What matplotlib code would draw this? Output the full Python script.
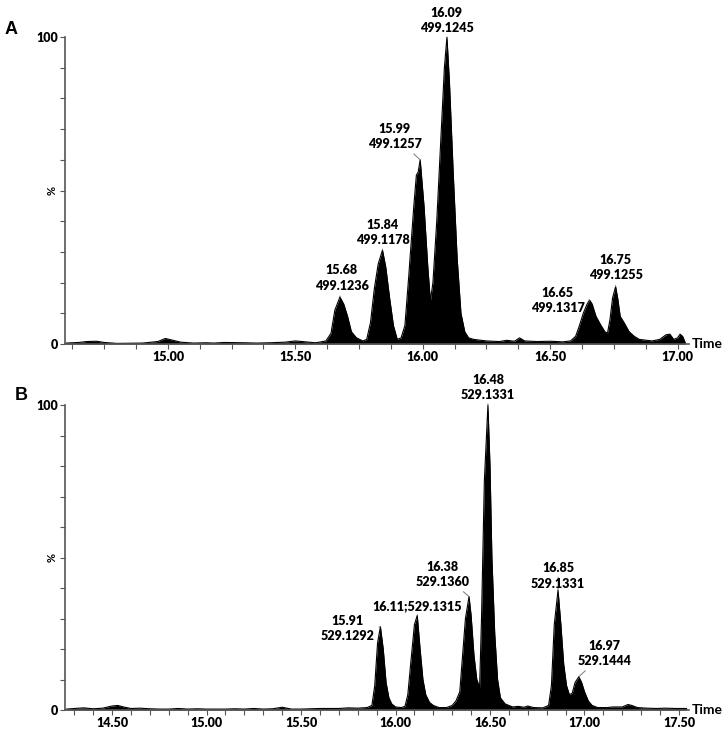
import matplotlib
matplotlib.use("Agg")
import matplotlib.pyplot as plt
import numpy as np

plt.rcParams["font.family"] = ["Lato", "DejaVu Sans"]

# ---- panel A: chromatogram (time in min, relative intensity in %)
time_a = [14.60, 14.65, 14.68, 14.72, 14.75, 14.80, 14.90, 14.96, 14.99, 15.02,
          15.05, 15.10, 15.15, 15.18, 15.22, 15.30, 15.35, 15.40, 15.46, 15.50,
          15.54, 15.58, 15.62, 15.64, 15.655, 15.675, 15.69, 15.705, 15.72, 15.74,
          15.765, 15.78, 15.795, 15.81, 15.825, 15.842, 15.855, 15.87, 15.885, 15.90,
          15.915, 15.93, 15.945, 15.965, 15.975, 15.982, 15.99, 16.005, 16.02, 16.03,
          16.04, 16.055, 16.07, 16.085, 16.095, 16.105, 16.12, 16.135, 16.15, 16.165,
          16.18, 16.20, 16.25, 16.30, 16.33, 16.36, 16.38, 16.40, 16.45, 16.50,
          16.55, 16.58, 16.60, 16.615, 16.63, 16.645, 16.655, 16.665, 16.68, 16.70,
          16.715, 16.725, 16.735, 16.745, 16.757, 16.765, 16.775, 16.79, 16.81, 16.83,
          16.85, 16.88, 16.90, 16.93, 16.955, 16.97, 16.985, 17.00, 17.01, 17.02, 17.03]
int_a = [0.3, 0.5, 0.8, 0.9, 0.5, 0.2, 0.3, 0.8, 1.8, 1.2,
         0.6, 0.3, 0.4, 0.3, 0.5, 0.4, 0.3, 0.4, 0.6, 1.0,
         0.7, 0.4, 1.0, 3.5, 11, 15.3, 13, 9, 4, 2,
         1.0, 1.5, 7, 18, 26, 30.6, 25, 15, 6, 1.5,
         2.0, 6, 22, 45, 55, 56, 60, 45, 25, 14,
         20, 40, 65, 90, 100, 85, 55, 28, 10, 4,
         2, 1.5, 1.0, 0.8, 1.2, 0.9, 2.0, 1.0, 0.8, 0.9,
         0.7, 1.0, 2.5, 6, 10, 13, 14.3, 13, 9, 6,
         4, 3.5, 8, 15, 18.7, 15, 9, 7, 4, 2.5,
         1.5, 1.2, 1.0, 1.5, 3.0, 3.2, 1.5, 2.0, 3.2, 2.5, 0.5]
peak_t_a = [15.675, 15.842, 15.99, 16.095, 16.655, 16.757]
peak_y_a = [15.3, 30.6, 60, 100, 14.3, 18.7]
labels_a = ["15.68\n499.1236", "15.84\n499.1178", "15.99\n499.1257",
            "16.09\n499.1245", "16.65\n499.1317", "16.75\n499.1255"]
ticks_a = [15.0, 15.5, 16.0, 16.5, 17.0]

# ---- panel B
time_b = [14.26, 14.30, 14.35, 14.40, 14.45, 14.50, 14.53, 14.56, 14.60, 14.65,
          14.70, 14.75, 14.80, 14.85, 14.90, 14.95, 15.00, 15.05, 15.10, 15.15,
          15.20, 15.25, 15.30, 15.35, 15.40, 15.45, 15.50, 15.55, 15.60, 15.65,
          15.70, 15.75, 15.80, 15.85, 15.875, 15.89, 15.905, 15.92, 15.935, 15.95,
          15.965, 15.98, 16.00, 16.03, 16.05, 16.065, 16.08, 16.10, 16.115, 16.13,
          16.145, 16.16, 16.18, 16.20, 16.23, 16.27, 16.30, 16.32, 16.34, 16.355,
          16.37, 16.389, 16.40, 16.415, 16.43, 16.445, 16.455, 16.47, 16.489, 16.50,
          16.51, 16.525, 16.54, 16.555, 16.58, 16.62, 16.65, 16.68, 16.70, 16.73,
          16.78, 16.81, 16.825, 16.84, 16.86, 16.875, 16.89, 16.905, 16.92, 16.935,
          16.95, 16.97, 16.985, 17.00, 17.02, 17.04, 17.07, 17.12, 17.15, 17.20,
          17.23, 17.25, 17.28, 17.33, 17.38, 17.43, 17.48, 17.54]
int_b = [0.3, 0.5, 0.7, 0.4, 0.6, 1.3, 1.5, 1.0, 0.5, 0.6,
         0.4, 0.3, 0.3, 0.5, 0.3, 0.4, 0.3, 0.3, 0.3, 0.4,
         0.3, 0.5, 0.3, 0.4, 0.9, 0.3, 0.3, 0.4, 0.5, 0.5,
         0.5, 0.7, 0.6, 0.8, 1.5, 8, 22, 27.3, 20, 9,
         4, 2, 1.0, 0.8, 1.2, 5, 15, 28, 31, 20,
         10, 5, 2.5, 1.5, 0.8, 0.8, 1.5, 3, 6, 18,
         30, 37.2, 31, 18, 10, 7.5, 30, 75, 100, 80,
         50, 25, 10, 4, 2, 1.0, 1.2, 0.9, 1.3, 0.8,
         0.7, 1.5, 8, 28, 39.3, 28, 15, 8, 5, 5.5,
         9, 10.9, 9, 6, 3, 1.5, 0.8, 0.8, 1.0, 1.0,
         1.8, 1.5, 0.8, 0.6, 0.5, 0.6, 0.5, 0.5]
peak_t_b = [15.92, 16.115, 16.389, 16.489, 16.86, 16.97]
peak_y_b = [27.3, 31, 37.2, 100, 39.3, 10.9]
labels_b = ["15.91\n529.1292", "16.11;529.1315", "16.38\n529.1360",
            "16.48\n529.1331", "16.85\n529.1331", "16.97\n529.1444"]
ticks_b = [14.5, 15.0, 15.5, 16.0, 16.5, 17.0, 17.5]

# label centres (data coords) for each panel
text_pos_a = [(15.682, 21.5), (15.843, 36.3), (15.890, 67.6),
              (16.094, 105.4), (16.529, 14.2), (16.757, 24.9)]
text_pos_b = [(15.748, 26.8), (16.115, 34.1), (16.25, 44.5),
              (16.489, 105.8), (16.86, 44.0), (17.104, 18.6)]

fig = plt.figure(figsize=(7.25, 7.35), dpi=100)
ax_a = fig.add_axes([65 / 725, 1 - 344 / 735, 624 / 725, 307 / 735])
ax_b = fig.add_axes([65 / 725, 1 - 710 / 735, 624 / 725, 305 / 735])

spine_col = "#555555"


def draw_panel(ax, t, y, xlim, ticks, minor_step, pk_t, pk_y, labels, tpos):
    ax.fill_between(t, 0, y, color="black", lw=0)
    ax.plot(t, y, color="black", lw=0.8)
    ax.set_ylim(0, 100)
    for s in ["top", "right"]:
        ax.spines[s].set_visible(False)
    for s in ["left", "bottom"]:
        ax.spines[s].set_color(spine_col)
        ax.spines[s].set_linewidth(1.2)
    ax.set_xticks(ticks)
    ax.set_xticklabels(["%.2f" % v for v in ticks], fontsize=9, fontweight="heavy")
    ax.set_xticks(np.arange(ticks[0] - 1, xlim[1], minor_step), minor=True)
    ax.set_yticks(range(0, 101, 10))
    ax.set_yticklabels(["0"] + [""] * 9 + ["100"], fontsize=9, fontweight="heavy")
    ax.tick_params(axis="both", which="both", length=3.5, width=0.8, color=spine_col, pad=1.5)
    ax.set_xlim(*xlim)
    ax.text(-0.012, 0.5, "%", rotation=90, transform=ax.transAxes,
            ha="right", va="center", fontsize=8, fontweight="bold")
    ax.text(1.005, 0.0, "Time", transform=ax.transAxes, ha="left", va="center",
            fontsize=10, fontweight="bold")
    for px, py, lab, (tx, ty) in zip(pk_t, pk_y, labels, tpos):
        ax.annotate(lab, xy=(px, py), xytext=(tx, ty), ha="center", va="center",
                    fontsize=9, fontweight="heavy", linespacing=1.35,
                    annotation_clip=False,
                    arrowprops=dict(arrowstyle="-", color="#777777", lw=0.7,
                                    shrinkA=1, shrinkB=0))


draw_panel(ax_a, time_a, int_a, (14.596, 17.045), ticks_a, 0.125,
           peak_t_a, peak_y_a, labels_a, text_pos_a)
draw_panel(ax_b, time_b, int_b, (14.251, 17.553), ticks_b, 0.1,
           peak_t_b, peak_y_b, labels_b, text_pos_b)

fig.text(11 / 725, 1 - 30 / 735, "A", ha="center", va="center", fontsize=13,
         fontweight="bold", family="Liberation Sans")
fig.text(21 / 725, 1 - 396 / 735, "B", ha="center", va="center", fontsize=13,
         fontweight="bold", family="Liberation Sans")

fig.savefig("out.png", dpi=100)
plt.close(fig)
